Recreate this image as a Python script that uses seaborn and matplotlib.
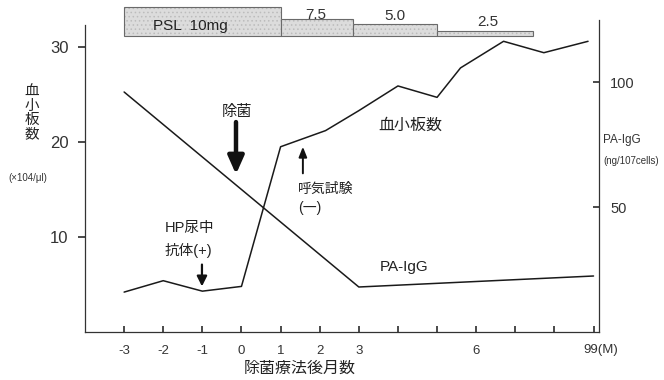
import numpy as np
import pandas as pd
import matplotlib
matplotlib.use("Agg")
import matplotlib.pyplot as plt
import matplotlib.transforms as mtransforms
import seaborn as sns

# platelet count (x10^4/ul) by month after eradication therapy
plt_months = [-3, -2, -1, 0, 1, 2.15, 3, 4, 5, 5.6, 6.7, 7.73, 8.86]
plt_count = [4.2, 5.4, 4.3, 4.8, 19.5, 21.2, 23.3, 25.9, 24.7, 27.8, 30.6, 29.4, 30.6]

# PA-IgG (ng/10^7 cells)
paigg_months = [-3, 3, 9]
paigg_value = [96, 18, 22.4]

# prednisolone dose steps
psl_start = [-3, 1, 2.85, 5]
psl_end = [1, 2.85, 5, 7.45]
psl_labels = ["PSL  10mg", "7.5", "5.0", "2.5"]
psl_top = [34.2, 33.0, 32.4, 31.7]
psl_base = 31.2

xticks = list(range(-3, 10))
xtick_labels = ["-3", "-2", "-1", "0", "1", "2", "3", "", "", "6", "", "", "99(M)"]

sns.set_theme(style="white")
plt.rcParams["font.family"] = ["Liberation Sans", "Noto Sans CJK JP", "DejaVu Sans"]
plt.rcParams["hatch.linewidth"] = 0.6

fig = plt.figure(figsize=(6.64, 3.8), dpi=100)
W, H = 664, 380
ax = fig.add_axes([85 / W, (380 - 332) / H, (599 - 85) / W, (332 - 5) / H])
ax2 = ax.twinx()

line_kw = dict(color="#1a1a1a", linewidth=1.1)
sns.lineplot(x=plt_months, y=plt_count, ax=ax, **line_kw)
sns.lineplot(x=paigg_months, y=paigg_value, ax=ax2, **line_kw)

ax.set_xlim(-4.0, 9.14)
ax.set_ylim(0, 327 / 9.5)
ax2.set_ylim(0, 327 / 2.5)

# PSL bars: stippled fill, then outline
for s, e, top in zip(psl_start, psl_end, psl_top):
    ax.bar(s, top - psl_base, width=e - s, bottom=psl_base, align="edge",
           color="#dcdcdc", edgecolor="#bcbcbc", linewidth=0, hatch="....",
           zorder=3)
    ax.bar(s, top - psl_base, width=e - s, bottom=psl_base, align="edge",
           fill=False, edgecolor="#6a6a6a", linewidth=0.8, zorder=3)
ax.text(-1.3, 32.2, psl_labels[0], ha="center", va="center", fontsize=11, color="#222", zorder=4)
ax.text(1.9, 33.35, psl_labels[1], ha="center", va="center", fontsize=11, color="#333", zorder=4)
ax.text(3.93, 33.3, psl_labels[2], ha="center", va="center", fontsize=11, color="#333", zorder=4)
ax.text(6.3, 32.65, psl_labels[3], ha="center", va="center", fontsize=11, color="#333", zorder=4)

# spines
for a in (ax, ax2):
    for sp in a.spines.values():
        sp.set_color("#333")
        sp.set_linewidth(0.9)
    a.spines["top"].set_visible(False)
ax.spines["left"].set_bounds(0, 307 / 9.5)
ax2.spines["right"].set_bounds(0, 312 / 2.5)
ax2.spines["left"].set_visible(False)
ax2.spines["bottom"].set_visible(False)
ax.spines["right"].set_visible(False)

ax.set_xticks(xticks)
ax.set_xticklabels(xtick_labels)
ax.tick_params(axis="x", direction="in", length=4, pad=9, labelsize=9.5, colors="#333", bottom=True)
lbl = ax.get_xticklabels()[-1]
lbl.set_transform(lbl.get_transform() + mtransforms.ScaledTranslation(7 / 100, 0, fig.dpi_scale_trans))

ax.set_yticks([10, 20, 30])
ax.tick_params(axis="y", direction="out", length=5, pad=7, labelsize=12, colors="#333", left=True)
ax2.set_yticks([50, 100])
ax2.tick_params(axis="y", direction="in", length=4, pad=8, labelsize=10.5, colors="#333", right=True)
ax.set_xlabel("")
ax.set_ylabel("")
ax2.set_ylabel("")

# annotations
ax.text(4.31, 21.8, "血小板数", ha="center", va="center", fontsize=11.5, color="#222")
ax.text(4.16, 6.8, "PA-IgG", ha="center", va="center", fontsize=11, color="#222")
ax.text(-0.12, 23.2, "除菌", ha="center", va="center", fontsize=11, color="#222")
ax.annotate("", xy=(-0.14, 16.6), xytext=(-0.14, 22.1),
            arrowprops=dict(arrowstyle="-|>,head_width=0.4,head_length=0.9",
                            color="#111", lw=3.2, shrinkA=0, shrinkB=0))
ax.text(-1.96, 10.9, "HP尿中", ha="left", va="center", fontsize=10.5, color="#222")
ax.text(-1.96, 8.6, "抗体(+)", ha="left", va="center", fontsize=10.5, color="#222")
ax.annotate("", xy=(-1.01, 4.8), xytext=(-1.01, 7.1),
            arrowprops=dict(arrowstyle="-|>,head_width=0.25,head_length=0.5",
                            color="#111", lw=1.6, shrinkA=0, shrinkB=0))
ax.text(1.44, 15.05, "呼気試験", ha="left", va="center", fontsize=10, color="#222")
ax.text(1.44, 13.05, "(一)", ha="left", va="center", fontsize=10, color="#222")
ax.annotate("", xy=(1.57, 19.5), xytext=(1.57, 16.7),
            arrowprops=dict(arrowstyle="-|>,head_width=0.2,head_length=0.5",
                            color="#111", lw=1.4, shrinkA=0, shrinkB=0))

# outer labels
fig.text(32 / W, 1 - 113 / H, "血\n小\n板\n数", ha="center", va="center",
         fontsize=10.5, linespacing=1.0, color="#222")
fig.text(8 / W, 1 - 178 / H, "(×104/μl)", ha="left", va="center", fontsize=7, color="#333")
fig.text(603 / W, 1 - 140 / H, "PA-IgG", ha="left", va="center", fontsize=8.5, color="#333")
fig.text(603 / W, 1 - 161 / H, "(ng/107cells)", ha="left", va="center", fontsize=7, color="#333")
fig.text(300 / W, 1 - 368 / H, "除菌療法後月数", ha="center", va="center", fontsize=11.5, color="#222")

fig.savefig("out.png", dpi=100, facecolor="white")
